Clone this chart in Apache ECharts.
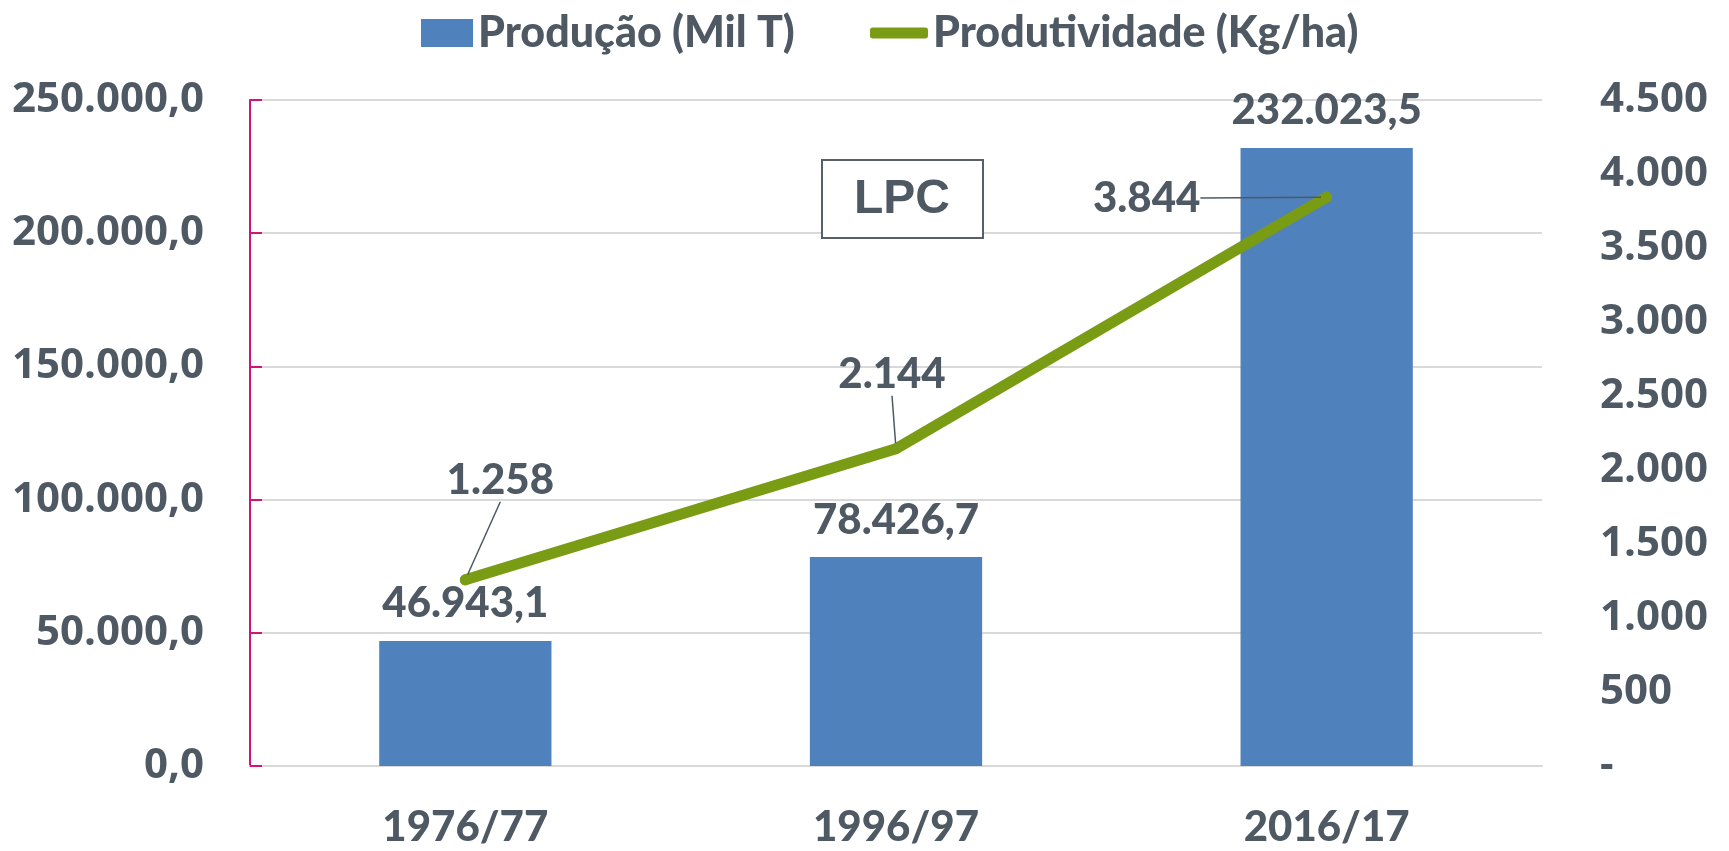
<!DOCTYPE html>
<html>
<head>
<meta charset="utf-8">
<script src="https://cdn.jsdelivr.net/npm/echarts@6/dist/echarts.min.js"></script>
<style>
    body { margin: 0; background: #fff; }
    #chart { width: 1729px; height: 851px; }
</style>
</head>
<body>
<div id="chart"></div>
<script>
    // dados
    const safras = ['1976/77', '1996/97', '2016/17'];
    const producao = [46943.1, 78426.7, 232023.5];
    const produtividade = [1258, 2144, 3844];
    const nomeProducao = 'Produção (Mil T)';
    const nomeProdutividade = 'Produtividade (Kg/ha)';

    // onde fica o rótulo de cada ponto da linha (deslocamento do centro)
    const deslocRotulo = [[35, -99], [-4, -74], [-180, 1]];

    const corTexto = '#4e5964';
    const pesoRotulo = 900;

    function milhar(n) {
        return String(n).replace(/\B(?=(\d{3})+(?!\d))/g, '.');
    }
    function fmtProducao(v) {
        let partes = Number(v).toFixed(1).split('.');
        return milhar(partes[0]) + ',' + partes[1];
    }
    function fmtProdutividade(v) {
        return v === 0 ? '-' : milhar(Math.round(v));
    }

    let mChart = echarts.init(document.getElementById('chart'));
    let options = {
        animation: false,
        legend: [
            {
                data: [nomeProducao],
                left: 416,
                top: 0,
                itemWidth: 52,
                itemHeight: 28,
                icon: 'rect',
                textStyle: { fontFamily: 'Lato', fontWeight: pesoRotulo, fontSize: 43, color: corTexto, lineHeight: 56 }
            },
            {
                data: [nomeProdutividade],
                left: 865,
                top: 0,
                itemWidth: 58,
                itemHeight: 11,
                icon: 'roundRect',
                textStyle: { fontFamily: 'Lato', fontWeight: pesoRotulo, fontSize: 43, color: corTexto, lineHeight: 56 }
            }
        ],
        grid: {
            left: 250,
            right: 187,
            top: 100,
            bottom: 85
        },
        xAxis: {
            type: 'category',
            data: safras,
            axisLine: { lineStyle: { color: '#d9d9d9', width: 2 } },
            axisTick: { show: false },
            axisLabel: {
                margin: 40,
                fontFamily: 'Lato',
                fontWeight: pesoRotulo,
                fontSize: 42,
                color: corTexto
            }
        },
        yAxis: [
            {
                type: 'value',
                min: 0,
                max: 250000,
                interval: 50000,
                axisLine: { show: true, lineStyle: { color: '#d0157a', width: 2 } },
                axisTick: { show: true, inside: true, length: 12, lineStyle: { color: '#d0157a', width: 2 } },
                splitLine: { lineStyle: { color: '#d9d9d9', width: 2 } },
                axisLabel: {
                    margin: 46,
                    fontFamily: 'Open Sans',
                    fontWeight: 'bold',
                    fontSize: 42,
                    color: corTexto,
                    formatter: fmtProducao
                }
            },
            {
                type: 'value',
                min: 0,
                max: 4500,
                interval: 500,
                axisLine: { show: false },
                axisTick: { show: false },
                splitLine: { show: false },
                axisLabel: {
                    margin: 58,
                    fontFamily: 'Open Sans',
                    fontWeight: 'bold',
                    fontSize: 42,
                    color: corTexto,
                    formatter: fmtProdutividade
                }
            }
        ],
        series: [
            {
                name: nomeProducao,
                type: 'bar',
                data: producao,
                barCategoryGap: '60%',
                itemStyle: { color: '#4f81bd' },
                label: {
                    show: true,
                    position: 'top',
                    distance: 16,
                    fontFamily: 'Lato',
                    fontWeight: pesoRotulo,
                    fontSize: 42,
                    color: corTexto,
                    formatter: p => fmtProducao(p.value)
                }
            },
            {
                name: nomeProdutividade,
                type: 'line',
                yAxisIndex: 1,
                data: produtividade,
                symbol: 'circle',
                symbolSize: 11,
                itemStyle: { color: '#7a9c14' },
                lineStyle: { color: '#7a9c14', width: 11, cap: 'round', join: 'round' },
                label: {
                    show: true,
                    position: 'top',
                    fontFamily: 'Lato',
                    fontWeight: pesoRotulo,
                    fontSize: 42,
                    color: corTexto,
                    formatter: p => fmtProdutividade(p.value)
                },
                labelLine: {
                    show: true,
                    lineStyle: { color: '#4e5964', width: 1.5 }
                },
                labelLayout: function (params) {
                    let d = deslocRotulo[params.dataIndex];
                    let cx = params.rect.x + params.rect.width / 2 + d[0];
                    let cy = params.rect.y + params.rect.height / 2 + d[1];
                    return {
                        dx: cx - (params.labelRect.x + params.labelRect.width / 2),
                        dy: cy - (params.labelRect.y + params.labelRect.height / 2)
                    };
                }
            }
        ],
        graphic: [
            {
                type: 'group',
                left: 821,
                top: 159,
                z: 100,
                children: [
                    {
                        type: 'rect',
                        z: 100,
                        shape: { x: 0, y: 0, width: 161, height: 78 },
                        style: { fill: '#fff', stroke: '#595f66', lineWidth: 2 }
                    },
                    {
                        type: 'text',
                        z: 101,
                        x: 80,
                        y: 40,
                        style: {
                            text: 'LPC',
                            fontFamily: 'Liberation Sans',
                            fontWeight: 'bold',
                            fontSize: 48,
                            fill: corTexto,
                            align: 'center',
                            verticalAlign: 'middle'
                        }
                    }
                ]
            }
        ]
    };
    mChart.setOption(options);
</script>
</body>
</html>
